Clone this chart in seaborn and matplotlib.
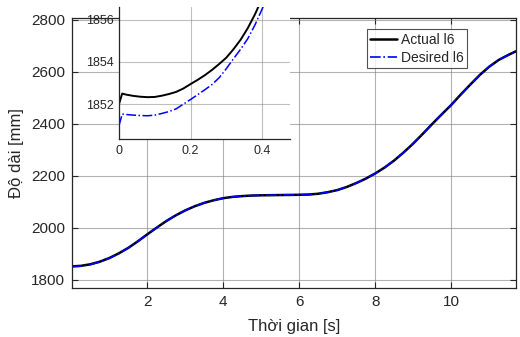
import numpy as np
import pandas as pd
import matplotlib
matplotlib.use("Agg")
import matplotlib.pyplot as plt
import seaborn as sns

# main curve, actual and desired overlap
t_main = [0.0, 0.25, 0.5, 0.75, 1.0, 1.25, 1.5, 1.75, 2.0, 2.25, 2.5, 2.75,
          3.0, 3.25, 3.5, 3.75, 4.0, 4.25, 4.5, 4.75, 5.0, 5.5, 6.0, 6.25,
          6.5, 6.75, 7.0, 7.25, 7.5, 7.75, 8.0, 8.25, 8.5, 8.75, 9.0, 9.25,
          9.5, 9.75, 10.0, 10.25, 10.5, 10.75, 11.0, 11.25, 11.5, 11.7]
l6_actual = [1852, 1854, 1860, 1870, 1884, 1902, 1923, 1948, 1975, 2001,
             2026, 2048, 2067, 2083, 2096, 2106, 2114, 2119, 2122, 2124,
             2125, 2126, 2127, 2128, 2131, 2137, 2145, 2157, 2172, 2189,
             2209, 2232, 2259, 2290, 2324, 2361, 2399, 2436, 2472, 2512,
             2550, 2587, 2619, 2645, 2664, 2678]
l6_desired = [1851, 1853, 1859, 1869, 1883, 1901, 1923, 1948, 1975, 2001,
              2026, 2048, 2067, 2083, 2096, 2106, 2114, 2119, 2122, 2124,
              2125, 2126, 2127, 2128, 2131, 2137, 2145, 2157, 2172, 2189,
              2209, 2232, 2259, 2290, 2324, 2361, 2399, 2436, 2472, 2512,
              2550, 2587, 2619, 2645, 2664, 2678]

# zoomed start (inset)
t_zoom = [0.0, 0.009, 0.02, 0.04, 0.06, 0.08, 0.10, 0.12, 0.14, 0.16, 0.18,
          0.20, 0.22, 0.24, 0.26, 0.28, 0.30, 0.32, 0.34, 0.36, 0.38, 0.40,
          0.42]
zoom_actual = [1852.0, 1852.5, 1852.45, 1852.39, 1852.35, 1852.33, 1852.34,
               1852.40, 1852.48, 1852.58, 1852.74, 1852.95, 1853.15, 1853.37,
               1853.62, 1853.9, 1854.2, 1854.6, 1855.05, 1855.6, 1856.25,
               1857.0, 1857.8]
zoom_desired = [1850.98, 1851.53, 1851.51, 1851.48, 1851.46, 1851.45,
                1851.48, 1851.56, 1851.65, 1851.78, 1852.0, 1852.22, 1852.45,
                1852.68, 1852.93, 1853.25, 1853.68, 1854.15, 1854.6, 1855.1,
                1855.75, 1856.5, 1857.3]

sns.set_style("white")
plt.rcParams["font.family"] = ["Liberation Sans", "DejaVu Sans"]

fig = plt.figure(figsize=(5.2, 3.37), dpi=100)
ax = fig.add_axes([0.1385, 0.1454, 0.8535, 0.8012])

sns.lineplot(x=t_main, y=l6_actual, ax=ax, color="black", lw=1.8,
             label="Actual l6")
sns.lineplot(x=t_main, y=l6_desired, ax=ax, color="blue", lw=1.2,
             linestyle="-.", label="Desired l6")

ax.set_xlim(0.02, 11.7)
ax.set_ylim(1769, 2806)
ax.set_xticks([2, 4, 6, 8, 10])
ax.set_yticks([1800, 2000, 2200, 2400, 2600, 2800])
ax.grid(True, color="#808080", lw=0.8, alpha=0.6)
ax.tick_params(direction="in", length=4, labelsize=11, colors="#262626",
               top=True, right=True, bottom=True, left=True, pad=5)
for s in ax.spines.values():
    s.set_color("#262626")
    s.set_linewidth(0.9)
ax.set_xlabel("Thời gian [s]", fontsize=12, color="#262626", labelpad=7)
ax.set_ylabel("Độ dài [mm]", fontsize=12, color="#262626", labelpad=5)

leg = ax.legend(loc="upper left", bbox_to_anchor=(0.664, 0.958), fontsize=10,
                frameon=True, fancybox=False, borderpad=0.25,
                handlelength=1.9, handletextpad=0.3, labelspacing=0.3,
                borderaxespad=0)
leg.get_frame().set_edgecolor("#262626")
leg.get_frame().set_linewidth(0.8)

# inset
axi = fig.add_axes([0.2288, 0.5875, 0.329, 0.392])
sns.lineplot(x=t_zoom, y=zoom_actual, ax=axi, color="black", lw=1.4)
sns.lineplot(x=t_zoom, y=zoom_desired, ax=axi, color="blue", lw=1.1,
             linestyle="-.")
axi.set_xlim(0, 0.478)
axi.set_ylim(1850.35, 1856.6)
axi.set_xticks([0, 0.2, 0.4])
axi.set_xticklabels(["0", "0.2", "0.4"])
axi.set_yticks([1852, 1854, 1856])
axi.grid(True, color="#808080", lw=0.8, alpha=0.5)
axi.tick_params(direction="in", length=3, labelsize=9, colors="#262626",
                pad=4)
axi.spines["top"].set_visible(False)
axi.spines["right"].set_visible(False)
for s in ["left", "bottom"]:
    axi.spines[s].set_color("#262626")
    axi.spines[s].set_linewidth(0.9)
axi.set_facecolor("white")

fig.savefig("out.png", dpi=100)
